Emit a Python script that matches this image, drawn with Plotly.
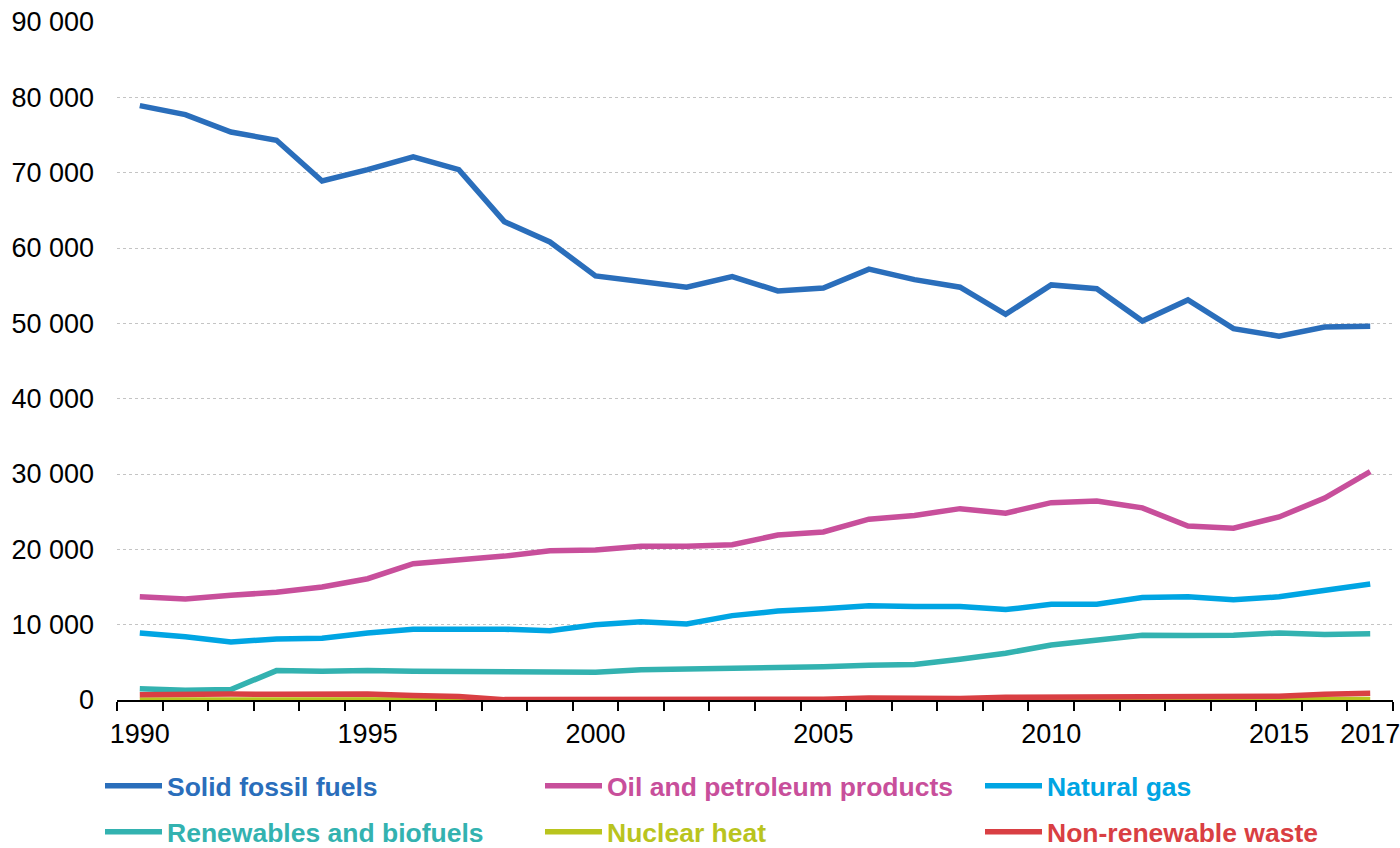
import plotly.graph_objects as go

years = list(range(1990, 2018))

solid_fossil = [78900, 77700, 75400, 74300, 68900, 70400, 72100, 70400, 63500, 60800,
                56300, 55600, 54800, 56200, 54300, 54700, 57200, 55800, 54800, 51200,
                55100, 54600, 50300, 53100, 49300, 48300, 49500, 49600]
oil_petroleum = [13700, 13400, 13900, 14300, 15000, 16100, 18100, 18600, 19100, 19800,
                 19900, 20400, 20400, 20600, 21900, 22300, 24000, 24500, 25400, 24800,
                 26200, 26400, 25500, 23100, 22800, 24300, 26800, 30300]
natural_gas = [8900, 8400, 7700, 8100, 8200, 8900, 9400, 9400, 9400, 9200,
               10000, 10400, 10100, 11200, 11800, 12100, 12500, 12400, 12400, 12000,
               12700, 12700, 13600, 13700, 13300, 13700, 14500, 15400]
renewables = [1500, 1300, 1400, 3900, 3800, 3900, 3800, 3800, 3850, 3700,
              3700, 4000, 4100, 4100, 4300, 4400, 4600, 4700, 5400, 6200,
              7300, 7900, 8600, 8550, 8600, 8900, 8700, 8800]
nuclear = [0, 0, 0, 0, 0, 0, 0, 0, 0, 0,
           0, 0, 0, 0, 0, 0, 0, 0, 0, 0,
           0, 0, 0, 20, 30, 40, 60, 80]
waste = [700, 800, 800, 750, 850, 800, 600, 450, 50, 50,
         50, 50, 50, 50, 50, 100, 250, 200, 200, 350,
         400, 400, 350, 400, 450, 500, 750, 880]

series_names = ["Solid fossil fuels", "Oil and petroleum products", "Natural gas",
                "Renewables and biofuels", "Nuclear heat", "Non-renewable waste"]
series_values = [solid_fossil, oil_petroleum, natural_gas, renewables, nuclear, waste]
colors = ["#2a6ebb", "#c84f9b", "#00a5e3", "#33b2b0", "#b9c41e", "#d93f43"]

x_tick_labels = [1990, 1995, 2000, 2005, 2010, 2015, 2017]
y_tick_values = list(range(0, 90001, 10000))

# legend slot placement (pixels): left edge of each entry, and row centre
legend_x_px = [100, 540, 980, 100, 540, 980]
legend_y_px = [786, 786, 786, 832, 832, 832]

W, H = 1400, 848
font_family = "Liberation Sans, Arial, sans-serif"

fig = go.Figure()
legend_layout = {}
for i, (name, vals, col) in enumerate(zip(series_names, series_values, colors)):
    lg = "legend" if i == 0 else f"legend{i + 1}"
    fig.add_trace(go.Scatter(
        x=years, y=vals, mode="lines",
        name=f'<span style="color:{col}"><b>{name}</b></span>',
        line=dict(color=col, width=5.5),
        legend=lg,
    ))
    legend_layout[lg] = dict(
        orientation="h", xref="container", yref="container",
        x=legend_x_px[i] / W, y=1 - legend_y_px[i] / H,
        xanchor="left", yanchor="middle",
        font=dict(family=font_family, size=26.5),
        bgcolor="rgba(0,0,0,0)",
        itemwidth=57,
    )

fig.update_layout(
    width=W, height=H,
    margin=dict(l=117, r=7, t=22, b=148, autoexpand=False),
    paper_bgcolor="white", plot_bgcolor="white",
    separators=". ",
    font=dict(family=font_family, size=27, color="black"),
    showlegend=True,
    xaxis=dict(
        range=[1989.5, 2017.5],
        tickvals=x_tick_labels,
        ticktext=[str(v) for v in x_tick_labels],
        ticks="outside", ticklen=9, tickcolor="rgba(0,0,0,0)",
        ticklabeloverflow="allow",
        showgrid=False, zeroline=False, automargin=False,
        showline=True, linecolor="black", linewidth=1.5,
        tickfont=dict(size=27),
        minor=dict(tick0=1989.5, dtick=1, ticks="outside", ticklen=9,
                   tickcolor="black", tickwidth=1.5, showgrid=False),
    ),
    yaxis=dict(
        range=[0, 90000],
        tickvals=y_tick_values,
        tickformat=",d",
        showgrid=True, gridcolor="#c4c4c4", gridwidth=1, griddash="dot",
        zeroline=False, showline=False, ticks="", automargin=False,
        ticklabelstandoff=22,
        tickfont=dict(size=27),
    ),
    **legend_layout,
)

fig.write_html(
    "out.html",
    config={"displayModeBar": False},
    post_script="document.body.style.margin='0';document.body.style.overflow='hidden';",
)
